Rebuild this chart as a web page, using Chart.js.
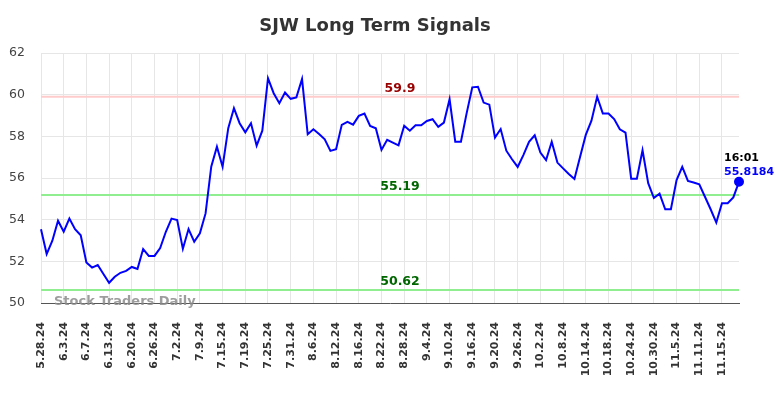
<!DOCTYPE html>
<html>
<head>
<meta charset="utf-8">
<script src="https://cdn.jsdelivr.net/npm/chart.js@4/dist/chart.umd.min.js"></script>
<style>
html,body{margin:0;padding:0;background:#fff;}
#wrap{width:784px;height:398px;position:relative;}
</style>
</head>
<body>
<div id="wrap"><canvas id="c" width="784" height="398"></canvas></div>
<script>
const titleText = "SJW Long Term Signals";
const dates = [
"5.28.24","5.29.24","5.30.24","5.31.24",
"6.3.24","6.4.24","6.5.24","6.6.24","6.7.24",
"6.10.24","6.11.24","6.12.24","6.13.24","6.14.24",
"6.17.24","6.18.24","6.20.24","6.21.24",
"6.24.24","6.25.24","6.26.24","6.27.24","6.28.24",
"7.1.24","7.2.24","7.3.24","7.5.24",
"7.8.24","7.9.24","7.10.24","7.11.24","7.12.24",
"7.15.24","7.16.24","7.17.24","7.18.24","7.19.24",
"7.22.24","7.23.24","7.24.24","7.25.24","7.26.24",
"7.29.24","7.30.24","7.31.24","8.1.24","8.2.24",
"8.5.24","8.6.24","8.7.24","8.8.24","8.9.24",
"8.12.24","8.13.24","8.14.24","8.15.24","8.16.24",
"8.19.24","8.20.24","8.21.24","8.22.24","8.23.24",
"8.26.24","8.27.24","8.28.24","8.29.24","8.30.24",
"9.3.24","9.4.24","9.5.24","9.6.24",
"9.9.24","9.10.24","9.11.24","9.12.24","9.13.24",
"9.16.24","9.17.24","9.18.24","9.19.24","9.20.24",
"9.23.24","9.24.24","9.25.24","9.26.24","9.27.24",
"9.30.24","10.1.24","10.2.24","10.3.24","10.4.24",
"10.7.24","10.8.24","10.9.24","10.10.24","10.11.24",
"10.14.24","10.15.24","10.16.24","10.17.24","10.18.24",
"10.21.24","10.22.24","10.23.24","10.24.24","10.25.24",
"10.28.24","10.29.24","10.30.24","10.31.24","11.1.24",
"11.4.24","11.5.24","11.6.24","11.7.24","11.8.24",
"11.11.24","11.12.24","11.13.24","11.14.24","11.15.24",
"11.18.24","11.19.24","11.20.24"
];
const prices = [
53.54,52.35,52.99,53.95,53.42,54.05,53.54,53.25,51.95,51.70,
51.82,51.39,50.97,51.26,51.45,51.54,51.73,51.63,52.59,52.26,
52.26,52.64,53.42,54.05,53.98,52.60,53.55,52.94,53.35,54.30,
56.54,57.50,56.54,58.39,59.35,58.63,58.19,58.63,57.55,58.27,
60.79,60.07,59.59,60.10,59.80,59.87,60.75,58.10,58.34,58.11,
57.86,57.30,57.38,58.55,58.69,58.56,58.98,59.09,58.50,58.39,
57.35,57.83,57.70,57.57,58.51,58.27,58.53,58.53,58.74,58.82,
58.46,58.66,59.78,57.74,57.74,59.10,60.35,60.38,59.62,59.52,
57.94,58.35,57.31,56.90,56.53,57.10,57.74,58.05,57.22,56.86,
57.74,56.74,56.46,56.19,55.95,57.02,58.07,58.75,59.90,59.10,
59.10,58.83,58.34,58.18,55.97,55.97,57.33,55.75,55.04,55.25,
54.50,54.50,55.90,56.54,55.86,55.78,55.70,55.10,54.50,53.86,
54.79,54.79,55.07,55.8184
];
const yTicks = [50,52,54,56,58,60,62];
const resistance = [59.9];
const supports = [55.19, 50.62];
const lastTime = "16:01";
const watermark = "Stock Traders Daily";

const overlay = {
  id: 'overlay',
  beforeDatasetsDraw(chart) {
    const {ctx, chartArea: a, scales: {x, y}} = chart;
    ctx.save();
    const drawLevel = (v, col) => {
      const py = y.getPixelForValue(v);
      ctx.strokeStyle = col; ctx.lineWidth = 2;
      ctx.beginPath(); ctx.moveTo(a.left, py); ctx.lineTo(a.right, py); ctx.stroke();
    };
    resistance.forEach(v => drawLevel(v, '#ffcccc'));
    supports.forEach(v => drawLevel(v, '#90ee90'));
    ctx.restore();
  },
  afterDatasetsDraw(chart) {
    const {ctx, chartArea: a, scales: {x, y}} = chart;
    ctx.save();
    const cx = 400;
    ctx.textAlign = 'center'; ctx.textBaseline = 'bottom';
    ctx.font = 'bold 12.5px "DejaVu Sans"';
    resistance.forEach(v => {
      ctx.fillStyle = '#990000';
      ctx.fillText(String(v), cx, y.getPixelForValue(v) - 2);
    });
    supports.forEach(v => {
      ctx.fillStyle = '#006600';
      ctx.fillText(String(v), cx, y.getPixelForValue(v) - 2);
    });
    // watermark
    ctx.font = 'bold 13px "DejaVu Sans"';
    ctx.fillStyle = 'rgba(140,140,140,0.85)';
    ctx.textAlign = 'left'; ctx.textBaseline = 'middle';
    ctx.fillText(watermark, 54, a.bottom - 1);
    // end annotation
    const li = prices.length - 1;
    const px = x.getPixelForValue(li), py = y.getPixelForValue(prices[li]);
    ctx.font = 'bold 11px "DejaVu Sans"';
    ctx.textAlign = 'left'; ctx.textBaseline = 'middle';
    ctx.fillStyle = '#000';
    ctx.fillText(lastTime, px - 15, py - 24);
    ctx.fillStyle = '#0000ff';
    ctx.fillText(prices[li].toString(), px - 15, py - 10);
    // title
    ctx.font = 'bold 18px "DejaVu Sans"';
    ctx.fillStyle = '#333';
    ctx.textAlign = 'center'; ctx.textBaseline = 'middle';
    ctx.fillText(titleText, 375, 26);
    ctx.restore();
  }
};

new Chart(document.getElementById('c'), {
  type: 'line',
  data: {
    labels: dates,
    datasets: [{
      data: prices,
      borderColor: '#0000ff',
      backgroundColor: '#0000ff',
      borderWidth: 2,
      tension: 0,
      pointRadius: ctx => ctx.dataIndex === prices.length - 1 ? 4 : 0,
      pointHoverRadius: 0,
      fill: false
    }]
  },
  options: {
    responsive: false,
    animation: false,
    devicePixelRatio: 1,
    layout: { padding: { top: 53, right: 45, left: 0, bottom: 0 } },
    plugins: { legend: { display: false }, tooltip: { enabled: false }, title: { display: false } },
    scales: {
      x: {
        type: 'category',
        offset: false,
        afterFit(s) { s.height = 95; },
        border: { display: true, color: '#555', width: 1 },
        grid: {
          drawTicks: false,
          color: ctx => (ctx.index % 4 === 0 ? '#e6e6e6' : 'rgba(0,0,0,0)'),
          lineWidth: 1
        },
        ticks: {
          autoSkip: false,
          maxRotation: 90, minRotation: 90,
          padding: 19,
          color: '#333',
          font: { family: '"DejaVu Sans"', size: 11, weight: 'bold' },
          callback(value, index) { return index % 4 === 0 ? this.getLabelForValue(value) : ''; }
        }
      },
      y: {
        min: yTicks[0], max: yTicks[yTicks.length - 1],
        afterFit(s) { s.width = 41; },
        afterBuildTicks(s) { s.ticks = yTicks.map(v => ({ value: v })); },
        border: { display: false },
        grid: { drawTicks: false, color: '#e6e6e6', lineWidth: 1 },
        ticks: {
          padding: 16,
          color: '#444',
          font: { family: '"DejaVu Sans"', size: 12.5 }
        }
      }
    }
  },
  plugins: [overlay]
});
</script>
</body>
</html>
